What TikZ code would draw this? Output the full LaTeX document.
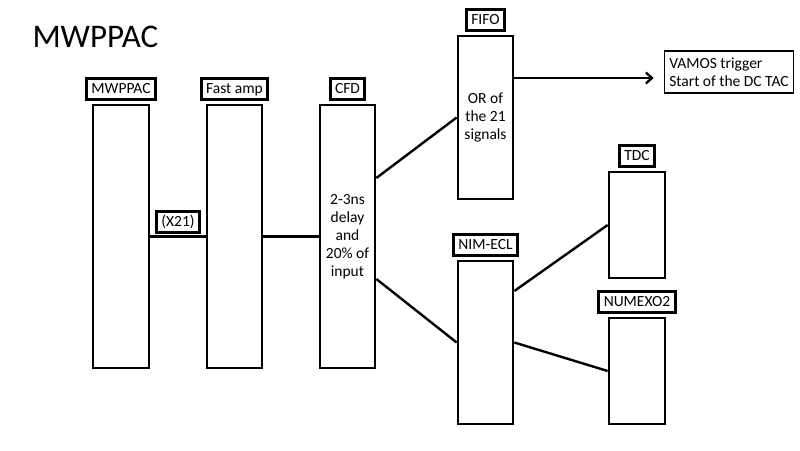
\documentclass[tikz,border=0pt]{standalone}
\usepackage{fontspec}
\setmainfont{Carlito}
\usetikzlibrary{positioning,arrows.meta}
\tikzset{
  ModStyle/.style = { draw, line width=2.7pt, align=center, inner sep=0pt,
                      font=\fontsize{15.5}{18}\selectfont },
  TagStyle/.style = { draw, line width=3pt, inner xsep=5pt, inner ysep=3.5pt,
                      text height=12pt, text depth=2pt,
                      font=\fontsize{15.5}{18}\selectfont },
  WireStyle/.style = { line width=2.4pt } }

\begin{document}
\begin{tikzpicture}[x=1pt, y=-1pt]
  \useasboundingbox (0,0) rectangle (800,450);
  \node[anchor=base west, font=\fontsize{33}{40}\selectfont] (title) at (29,47) {MWPPAC};
  % modules
  \node[ModStyle, minimum width=56pt, minimum height=263pt] (mw) at (121,236.5) {};
  \node[ModStyle, minimum width=55pt, minimum height=263pt] (amp) at (234.5,236.5) {};
  \node[ModStyle, minimum width=55pt, minimum height=263pt] (cfd) at (347.5,236.5)
    {2-3ns\\delay\\and\\20\% of\\input};
  \node[ModStyle, minimum width=55pt, minimum height=163pt] (fifo) at (485.5,117.5)
    {OR of\\the 21\\signals};
  \node[ModStyle, minimum width=55pt, minimum height=163pt] (nim) at (485.5,342.5) {};
  \node[ModStyle, minimum width=56pt, minimum height=106pt] (tdc) at (637,225) {};
  \node[ModStyle, minimum width=56pt, minimum height=106pt] (numexo) at (637,371) {};
  \node[draw, line width=1.2pt, align=left, inner xsep=5pt, minimum height=42pt,
        font=\fontsize{15.5}{18}\selectfont] (vamos) at (729,72)
    {VAMOS trigger\\Start of the DC TAC};
  % tags
  \node[TagStyle, above=3pt of mw] (mwtag) {MWPPAC};
  \node[TagStyle, above=3pt of amp] (amptag) {Fast amp};
  \node[TagStyle, above=3pt of cfd] (cfdtag) {CFD};
  \node[TagStyle, above=3pt of fifo] (fifotag) {FIFO};
  \node[TagStyle, above=3pt of nim] (nimtag) {NIM-ECL};
  \node[TagStyle, above=3pt of tdc] (tdctag) {TDC};
  \node[TagStyle, above=3pt of numexo] (numexotag) {NUMEXO2};
  % wires
  \coordinate (fifoout) at ([yshift=39.5pt]fifo.east);
  \coordinate (vamosin) at ([xshift=-10pt]vamos.west |- fifoout);
  \draw[WireStyle] (mw.east) -- node[TagStyle, above=3pt] (x21) {(X21)} (amp.west);
  \draw[WireStyle] (amp.east) -- (cfd.west);
  \draw[WireStyle] ([yshift=58.5pt]cfd.east) -- (fifo.west);
  \draw[WireStyle] ([yshift=-42.5pt]cfd.east) -- (nim.west);
  \draw[WireStyle, -{Straight Barb[length=6pt, width=11pt]}] (fifoout) -- (vamosin);
  \draw[WireStyle] ([yshift=51.5pt]nim.east) -- (tdc.west);
  \draw[WireStyle] (nim.east) -- (numexo.west);
\end{tikzpicture}
\end{document}
